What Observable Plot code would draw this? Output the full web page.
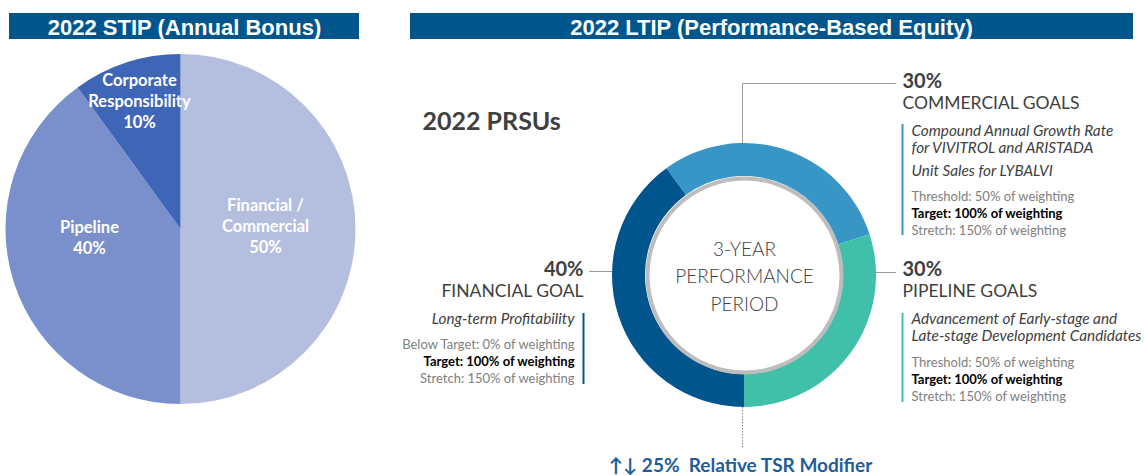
<!DOCTYPE html>
<html><head><meta charset="utf-8">
<script src="https://cdn.jsdelivr.net/npm/d3@7"></script>
<script src="https://cdn.jsdelivr.net/npm/@observablehq/plot@0.6"></script>
<style>body{margin:0;background:#fff} svg{display:block}</style>
</head><body><div id="chart"></div>
<script>
// ---------- data ----------
const stipTitle = "2022 STIP (Annual Bonus)";
const ltipTitle = "2022 LTIP (Performance-Based Equity)";
const stipCategories = ["Financial /\nCommercial", "Pipeline", "Corporate\nResponsibility"];
const stipValues = [50, 40, 10];
const ltipCategories = ["COMMERCIAL GOALS", "PIPELINE GOALS", "FINANCIAL GOAL"];
const ltipValues = [30, 30, 40];
const ltipMetrics = [
  ["Compound Annual Growth Rate\nfor VIVITROL and ARISTADA", "Unit Sales for LYBALVI"],
  ["Advancement of Early-stage and\nLate-stage Development Candidates"],
  ["Long-term Profitability"]
];
const ltipPayouts = [
  ["Threshold: 50% of weighting", "Target: 100% of weighting", "Stretch: 150% of weighting"],
  ["Threshold: 50% of weighting", "Target: 100% of weighting", "Stretch: 150% of weighting"],
  ["Below Target: 0% of weighting", "Target: 100% of weighting", "Stretch: 150% of weighting"]
];
const centerLabel = "3-YEAR\nPERFORMANCE\nPERIOD";
const prsuLabel = "2022 PRSUs";
const modifierLabel = "\u2191\u2193 25%  Relative TSR Modifier";

// ---------- styles / layout ----------
const stipColors = ["#B4BFDF", "#7A90CC", "#3F66B6"];
const ltipColors = ["#3896C7", "#41C0A9", "#00558C"];
const banner = "#00558C";
const pie = {cx: 180.5, cy: 229, r: 175};
const donut = {cx: 744, cy: 275, r: 132, r0: 99};
const stipLabelPos = [[265, 225], [89, 236.5], [139, 100]];
const goalLayout = [
  {pctX: 902, anchor: "start", pctY: 81, nameY: 102.5, textX: 911, metricY: [138.5, 170], payY: 196, barX: 902, barY: [124, 235],
   leader: [[742, 159], [742, 83], [895, 83]]},
  {pctX: 902, anchor: "start", pctY: 269.5, nameY: 291, textX: 911, metricY: [326.5], payY: 362, barX: 902, barY: [313, 402],
   leader: [[867, 272], [895, 272]]},
  {pctX: 583, anchor: "end", pctY: 269.5, nameY: 291, textX: 574, metricY: [318], payY: 344, barX: 583, barY: [313, 384],
   leader: [[589, 271], [618, 271]]}
];

function arcMark(values, colors, {cx, cy, r, r0 = 0, start = 0}) {
  return (index, scales) => {
    const X = scales.x(cx), Y = scales.y(cy);
    const R = scales.x(cx + r) - X, R0 = scales.x(cx + r0) - X;
    const arcs = d3.pie().sort(null).startAngle(start).endAngle(start + 2 * Math.PI)(values);
    const arc = d3.arc().innerRadius(R0).outerRadius(R);
    const g = d3.create("svg:g").attr("transform", `translate(${X},${Y})`);
    g.selectAll("path").data(arcs).join("path").attr("d", arc).attr("fill", (d, i) => colors[i]);
    return g.node();
  };
}

const leaders = goalLayout.flatMap((g, i) => g.leader.map(([x, y]) => ({i, x, y})));
const bars = goalLayout.map((g, i) => ({i, x: g.barX, y1: g.barY[0], y2: g.barY[1]}));
const pctRows = goalLayout.map((g, i) => ({i, x: g.pctX, y: g.pctY, t: ltipValues[i] + "%", anchor: g.anchor}));
const nameRows = goalLayout.map((g, i) => ({i, x: g.pctX, y: g.nameY, t: ltipCategories[i], anchor: g.anchor}));
const metricRows = goalLayout.flatMap((g, i) => ltipMetrics[i].map((t, j) => ({i, x: g.textX, y: g.metricY[j], t, anchor: g.anchor})));
const payRows = goalLayout.flatMap((g, i) => ltipPayouts[i].map((t, j) => ({i, j, x: g.textX, y: g.payY + j * 17, t, anchor: g.anchor})));

const sans = "Lato, 'Open Sans', sans-serif";
const textMarks = (rows, anchor, opts) => Plot.text(rows.filter(d => d.anchor === anchor), {x: "x", y: "y", text: "t", textAnchor: anchor, fontFamily: sans, ...opts});

const chart = Plot.plot({
  width: 1144, height: 475, margin: 0,
  x: {domain: [0, 1144], range: [0, 1144], axis: null},
  y: {domain: [0, 475], range: [0, 475], axis: null},
  style: {background: "white", fontFamily: sans},
  marks: [
    // banners
    Plot.rect([{x1: 9, x2: 359, y1: 13, y2: 39}, {x1: 410, x2: 1133, y1: 13, y2: 39}],
      {x1: "x1", x2: "x2", y1: "y1", y2: "y2", fill: banner}),
    Plot.text([{t: stipTitle}], {x: () => 184, y: () => 27, text: "t", fill: "white", fontFamily: "'Liberation Sans', Arial, sans-serif", fontWeight: "bold", fontSize: 22}),
    Plot.text([{t: ltipTitle}], {x: () => 771, y: () => 27, text: "t", fill: "white", fontFamily: "'Liberation Sans', Arial, sans-serif", fontWeight: "bold", fontSize: 22, ariaLabel: "ltip-title"}),
    // STIP pie
    arcMark(stipValues, stipColors, {cx: pie.cx, cy: pie.cy, r: pie.r}),
    Plot.text(stipCategories.map((c, i) => ({t: c + "\n" + stipValues[i] + "%", x: stipLabelPos[i][0], y: stipLabelPos[i][1]})),
      {x: "x", y: "y", text: "t", fill: "white", fontWeight: "bold", fontSize: 16.5, lineHeight: 1.28, fontFamily: sans}),
    // LTIP donut
    Plot.line(leaders, {x: "x", y: "y", z: "i", stroke: "#9a9a9a", strokeWidth: 1}),
    arcMark(ltipValues, ltipColors, {cx: donut.cx, cy: donut.cy, r: donut.r, r0: donut.r0, start: -0.2 * Math.PI}),
    Plot.dot([donut], {x: "cx", y: "cy", r: 97, fill: "white", stroke: "#BDBDBD", strokeWidth: 4}),
    Plot.text([{t: centerLabel}], {x: () => donut.cx, y: () => 274, text: "t", fill: "#404040", fontSize: 19, fontWeight: 300, lineHeight: 1.45, fontFamily: sans}),
    Plot.ruleX([{x: 742, y1: 407, y2: 448}], {x: "x", y1: "y1", y2: "y2", stroke: "#8a8a8a", strokeDasharray: "1.5,1.5", strokeWidth: 1}),
    Plot.text([{t: modifierLabel}], {x: () => 740, y: () => 465.5, text: "t", fill: "#1F5C9A", fontWeight: "bold", fontSize: 19, fontFamily: sans}),
    Plot.text([{t: prsuLabel}], {x: () => 422, y: () => 121, text: "t", textAnchor: "start", fill: "#404040", fontWeight: "bold", fontSize: 25, fontFamily: sans}),
    // goal bars
    Plot.ruleX(bars, {x: "x", y1: "y1", y2: "y2", stroke: d => ltipColors[d.i], strokeWidth: 2}),
    // goal texts
    ...["start", "end"].flatMap(a => [
      textMarks(pctRows, a, {fill: "#404040", fontWeight: "bold", fontSize: 20}),
      textMarks(nameRows, a, {fill: "#404040", fontSize: 17.5}),
      textMarks(metricRows, a, {fill: "#404040", fontStyle: "italic", fontSize: 15.3, lineHeight: 1.1}),
      textMarks(payRows.filter(d => d.j !== 1), a, {fill: "#808080", fontSize: 13}),
      textMarks(payRows.filter(d => d.j === 1), a, {fill: "#000", fontWeight: "bold", fontSize: 13})
    ])
  ]
});
document.getElementById("chart").append(chart);
const t = chart.querySelector('g[aria-label="ltip-title"] text');
if (t) { t.setAttribute("textLength", 425); t.setAttribute("lengthAdjust", "spacingAndGlyphs"); }
</script></body></html>
